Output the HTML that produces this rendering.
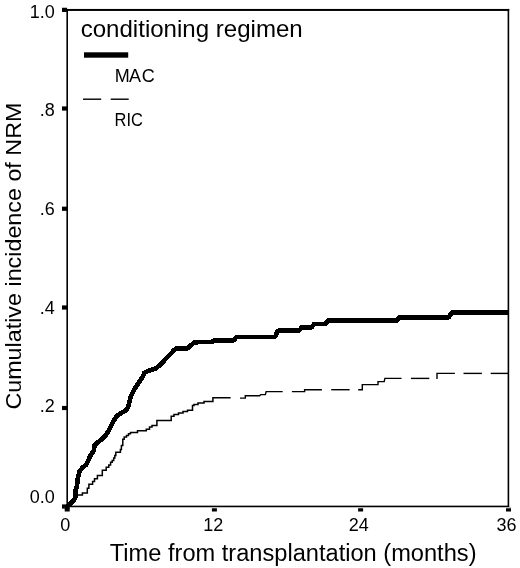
<!DOCTYPE html>
<html lang="en"><head><meta charset="utf-8"><title>Cumulative incidence of NRM</title>
<style>
html,body{margin:0;padding:0;background:#fff}
svg{display:block;filter:grayscale(1)}
svg text{font-family:"Liberation Sans",sans-serif;fill:#000}
</style></head><body>
<svg width="520" height="568" viewBox="0 0 520 568">
<rect x="0" y="0" width="520" height="568" fill="#fff"/>
<rect x="66.4" y="8.95" width="1.6" height="498.3" fill="#000"/>
<rect x="507.6" y="8.95" width="1.6" height="498.3" fill="#000"/>
<rect x="66.4" y="8.95" width="442.8" height="2" fill="#000"/>
<rect x="66.4" y="505.65" width="442.8" height="1.6" fill="#000"/>
<rect x="62" y="7.75" width="5" height="4.2" fill="#000"/>
<text x="54.7" y="17.80" text-anchor="end" font-size="18">1.0</text>
<rect x="62" y="106.40" width="5" height="4.2" fill="#000"/>
<text x="54.7" y="116.00" text-anchor="end" font-size="18">.8</text>
<rect x="62" y="206.65" width="5" height="4.2" fill="#000"/>
<text x="54.7" y="214.60" text-anchor="end" font-size="18">.6</text>
<rect x="62" y="305.40" width="5" height="4.2" fill="#000"/>
<text x="54.7" y="313.60" text-anchor="end" font-size="18">.4</text>
<rect x="62" y="405.90" width="5" height="4.2" fill="#000"/>
<text x="54.7" y="412.30" text-anchor="end" font-size="18">.2</text>
<rect x="62" y="504.40" width="5" height="4.2" fill="#000"/>
<text x="54.7" y="502.90" text-anchor="end" font-size="18">0.0</text>
<rect x="64.70" y="507" width="5" height="1.4" fill="#bbb"/>
<rect x="64.70" y="508.3" width="5" height="3.2" fill="#000"/>
<text x="65.30" y="530.5" text-anchor="middle" font-size="18">0</text>
<rect x="211.90" y="507" width="5" height="1.4" fill="#bbb"/>
<rect x="211.90" y="508.3" width="5" height="3.2" fill="#000"/>
<text x="213.30" y="530.5" text-anchor="middle" font-size="18">12</text>
<rect x="358.10" y="507" width="5" height="1.4" fill="#bbb"/>
<rect x="358.10" y="508.3" width="5" height="3.2" fill="#000"/>
<text x="358.70" y="530.5" text-anchor="middle" font-size="18">24</text>
<rect x="506.00" y="507" width="5" height="1.4" fill="#bbb"/>
<rect x="506.00" y="508.3" width="5" height="3.2" fill="#000"/>
<text x="506.60" y="530.5" text-anchor="middle" font-size="18">36</text>
<rect x="64.7" y="506" width="5" height="3" fill="#000"/>
<path d="M67.3 506.3 L72.0 502.3 L75.1 498.5 L75.6 490.8 L77.0 485.4 L77.5 480.0 L78.9 473.8 L79.5 471.5 L82.0 468.1 L86.6 464.2 L89.3 458.1 L91.2 454.2 L93.9 450.4 L94.3 445.8 L97.4 442.7 L102.0 439.1 L106.0 435.0 L108.8 430.8 L110.8 426.2 L113.5 420.8 L116.5 416.5 L120.8 413.1 L125.4 410.8 L128.1 407.3 L129.1 403.3 L130.8 396.5 L134.6 388.8 L138.8 382.7 L142.7 376.5 L144.6 372.5 L149.6 370.5 L155.0 368.8 L160.4 365.0 L165.0 359.6 L169.6 355.0 L173.8 350.4 L176.5 348.5 L187.5 348.5 L191.2 345.0 L195.0 342.2 L212.5 341.9 L213.8 340.4 L233.8 340.4 L236.2 337.1 L274.9 337.1 L278.0 330.6 L299.2 330.6 L301.8 327.2 L311.8 327.2 L314.2 324.0 L325.5 324.0 L328.0 320.5 L396.9 320.5 L399.2 317.3 L448.9 317.3 L451.9 312.3 L508.0 312.3" fill="none" stroke="#000" stroke-width="4.7" stroke-linejoin="bevel" shape-rendering="crispEdges"/>
<path d="M67.3 506.3 L72.5 502.0 L77.4 495.0 H82.4 V493.1 H87.3 V488.2 H88.9 V484.2 H92.6 V481.4 H94.5 V478.7 H97.4 V475.4 H102.3 V470.3 H106.2 V467.3 H108.8 V465.0 H110.6 V462.3 H112.2 V460.4 H113.7 V458.1 H114.8 V455.4 H115.8 V452.2 H120.4 V449.6 H121.4 V445.6 H122.8 V439.2 H124.2 V436.9 H126.5 V435.4 H128.5 V433.8 H130.5 V432.4 H137.5 V430.8 H146.3 V429.3 H149.5 V426.9 H152.0 V425.6 H156.9 V420.6 H171.2 V416.3 H174.0 V414.5 H178.5 V413.0 H183.0 V411.6 H187.5 V410.3 H192.5 V405.6 H194.0 V404.4 H198.0 V403.1 H204.0 V401.4 H212.9 V397.8 H230.6" fill="none" stroke="#000" stroke-width="1.5" stroke-linejoin="miter"/>
<path d="M240.0 398.1 L245.3 398.1 L245.3 395.8 L259.6 395.8 L260.8 394.6 L265.4 394.6 L266.1 391.6 L282.7 391.6" fill="none" stroke="#000" stroke-width="1.4"/>
<path d="M291.9 391.6 L304.6 391.6 L304.6 389.7 L321.9 389.7" fill="none" stroke="#000" stroke-width="1.4"/>
<path d="M331.2 389.7 L349.6 389.7" fill="none" stroke="#000" stroke-width="1.4"/>
<path d="M358.2 389.7 L362.3 389.7 L362.3 384.6 L378.0 384.6 L378.0 381.6 L384.2 381.6 L384.9 378.4 L401.5 378.4" fill="none" stroke="#000" stroke-width="1.4"/>
<path d="M410.9 378.4 L429.3 378.4" fill="none" stroke="#000" stroke-width="1.4"/>
<path d="M437.0 379.0 L437.0 373.4 L454.9 373.4" fill="none" stroke="#000" stroke-width="1.4"/>
<path d="M463.5 373.4 L481.9 373.4" fill="none" stroke="#000" stroke-width="1.4"/>
<path d="M490.7 373.4 L508.0 373.4" fill="none" stroke="#000" stroke-width="1.4"/>
<text x="80.7" y="37.1" font-size="23.7" textLength="222" lengthAdjust="spacingAndGlyphs">conditioning regimen</text>
<rect x="84" y="52.3" width="44.2" height="5.4" fill="#000"/>
<text x="114.8" y="82.1" font-size="18" dx="0 -0.9 0.9">MAC</text>
<rect x="83" y="98.5" width="18.2" height="1.4" fill="#000"/>
<rect x="110.7" y="98.5" width="18" height="1.4" fill="#000"/>
<text x="114.6" y="126.3" font-size="18" textLength="28.3" lengthAdjust="spacingAndGlyphs">RIC</text>
<text x="109.8" y="561.2" font-size="23.5" textLength="366.7" lengthAdjust="spacingAndGlyphs">Time from transplantation (months)</text>
<text transform="translate(21.4 409.6) rotate(-90)" font-size="22.4" textLength="307" lengthAdjust="spacingAndGlyphs">Cumulative incidence of NRM</text>
</svg>
</body></html>
